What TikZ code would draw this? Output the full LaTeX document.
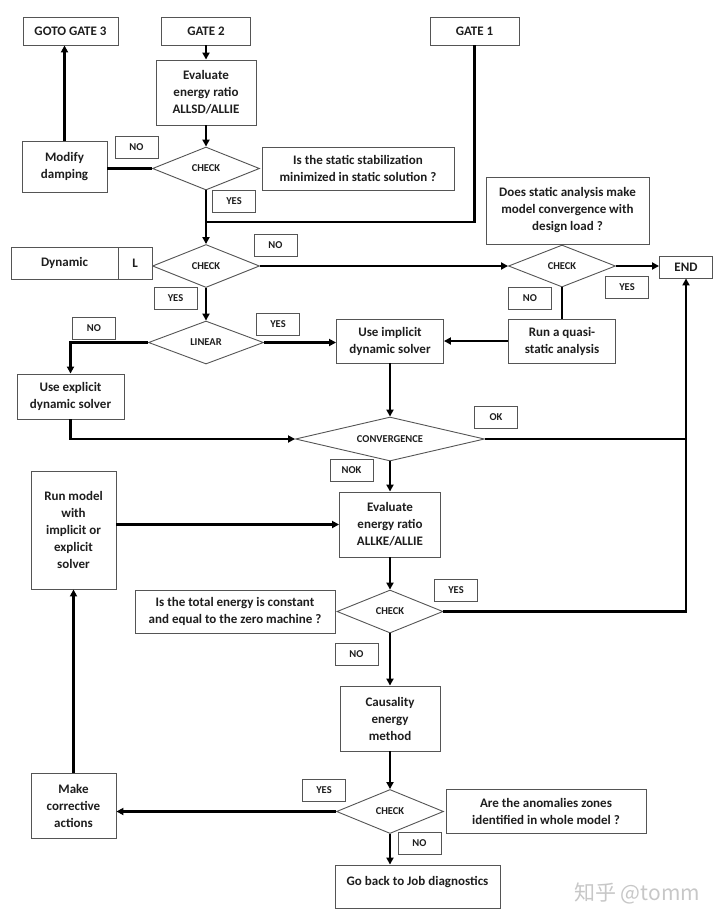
\documentclass[tikz,border=0pt]{standalone}
\usepackage{fontspec}
\setmainfont{Carlito}
\newfontfamily\cjk{Noto Sans CJK SC}
\usetikzlibrary{shapes.geometric,arrows.meta}
\definecolor{edge}{HTML}{555555}
\definecolor{txt}{HTML}{1E1E1E}
\tikzset{
  box/.style={draw=edge,line width=0.9pt,fill=white,text=txt,font=\fontsize{13}{17}\selectfont\bfseries,align=center,inner sep=0pt},
  lbl/.style={draw=edge,line width=0.9pt,fill=white,text=txt,font=\fontsize{10.5}{12}\selectfont\bfseries,inner sep=0pt,minimum width=43pt,minimum height=22pt},
  dia/.style={diamond,draw=edge,line width=0.9pt,fill=white,text=txt,font=\fontsize{10.5}{12}\selectfont\bfseries,inner sep=0pt,aspect=2.4},
  conn/.style={line width=2.6pt,black},
  arr/.style={conn,-{Triangle[length=7pt,width=7pt]}}
}
\begin{document}
\begin{tikzpicture}[x=1pt,y=-1pt]
\useasboundingbox (0,0) rectangle (720,924);
% top gates
\node[box,minimum width=95pt,minimum height=28pt] (goto3) at (70.5,31) {GOTO GATE 3};
\node[box,minimum width=89pt,minimum height=28pt] (gate2) at (206,31) {GATE 2};
\node[box,minimum width=89pt,minimum height=28pt] (gate1) at (474.5,31) {GATE 1};
\node[box,minimum width=100pt,minimum height=65pt] (eval1) at (206,92.5) {Evaluate\\energy ratio\\ALLSD/ALLIE};
\node[dia,minimum width=107pt,minimum height=43pt] (chk1) at (206,168.5) {CHECK};
\node[box,minimum width=85pt,minimum height=51pt] (modify) at (64.5,166.5) {Modify\\damping};
\node[box,minimum width=192pt,minimum height=43pt] (q1) at (358,168.5) {Is the static stabilization\\minimized in static solution ?};
\node[lbl] (no1) at (136.5,147) {NO};
\node[lbl] (yes1) at (234,201) {YES};
\coordinate (j1) at (206,222);
% second row
\node[dia,minimum width=107pt,minimum height=43pt] (chk2) at (206,266) {CHECK};
\node[box,minimum width=107pt,minimum height=32pt] (dynA) at (64.5,263) {Dynamic};
\node[box,minimum width=34pt,minimum height=32pt] (dynB) at (135,263) {L};
\node[lbl] (no2) at (275.5,245) {NO};
\node[lbl] (yes2) at (175.5,298.5) {YES};
\node[dia,minimum width=107pt,minimum height=42pt] (chk3) at (562,266) {CHECK};
\node[box,minimum width=163pt,minimum height=67pt] (q2) at (567.5,210.5) {Does static analysis make\\model convergence with\\design load ?};
\node[box,minimum width=53pt,minimum height=22pt] (endn) at (686,267) {END};
\node[lbl] (yes4) at (627,287.5) {YES};
\node[lbl] (no4) at (530,298) {NO};
% linear row
\node[dia,minimum width=115pt,minimum height=43pt] (linear) at (206,342.5) {LINEAR};
\node[lbl] (no3) at (94,328) {NO};
\node[lbl] (yes3) at (278,324) {YES};
\node[box,minimum width=107pt,minimum height=45pt] (explicit) at (70.5,396.5) {Use explicit\\dynamic solver};
\node[box,minimum width=107pt,minimum height=44pt] (implicit) at (390,341) {Use implicit\\dynamic solver};
\node[box,minimum width=107pt,minimum height=44pt] (quasi) at (562,341) {Run a quasi-\\static analysis};
% convergence
\node[dia,minimum width=189pt,minimum height=44pt] (conv) at (390,439) {CONVERGENCE};
\node[lbl] (ok) at (496,417) {OK};
\node[lbl] (nok) at (351.5,470.5) {NOK};
\coordinate (jc) at (686,439);
\node[box,minimum width=101pt,minimum height=65pt] (eval2) at (390,524.5) {Evaluate\\energy ratio\\ALLKE/ALLIE};
\node[box,minimum width=85pt,minimum height=118pt] (runm) at (73.5,530) {Run model\\with\\implicit or\\explicit\\solver};
\node[dia,minimum width=106pt,minimum height=43pt] (chk4) at (390,611.5) {CHECK};
\node[box,minimum width=200pt,minimum height=43pt] (q3) at (235,611.5) {Is the total energy is constant\\and equal to the zero machine ?};
\node[lbl] (yes5) at (456,590) {YES};
\node[lbl] (no5) at (356.5,654) {NO};
\node[box,minimum width=100pt,minimum height=65pt] (caus) at (390,718.5) {Causality\\energy\\method};
\node[dia,minimum width=107pt,minimum height=44pt] (chk5) at (390,811.5) {CHECK};
\node[box,minimum width=200pt,minimum height=44pt] (q4) at (546,811) {Are the anomalies zones\\identified in whole model ?};
\node[lbl] (yes6) at (324,790) {YES};
\node[box,minimum width=85pt,minimum height=65pt] (corr) at (73.5,805.5) {Make\\corrective\\actions};
\node[lbl] (no6) at (419.5,843.5) {NO};
\node[box,minimum width=165pt,minimum height=43pt] (goback) at (417.5,886.5) {};
\node[text=txt,font=\fontsize{13}{17}\selectfont\bfseries,inner sep=0pt] (gobackt) at (417.5,882) {Go back to Job diagnostics};
\node[text=black!22,font=\cjk\fontsize{21}{24}\selectfont,inner sep=0pt] (wm) at (637,893) {知乎 @tomm};
% connectors
\draw[arr] (gate2.south) -- (eval1.north);
\draw[arr] (eval1.south) -- (chk1.north);
\draw[conn] (chk1.west) -- (chk1.west -| modify.east);
\draw[arr] (modify.north) -- (modify.north |- goto3.south);
\draw[arr] (chk1.south) -- (chk2.north);
\draw[conn] (gate1.south) |- (j1);
\draw[arr] (chk2.east) -- (chk3.west);
\draw[arr] (chk2.south) -- (linear.north);
\draw[arr] (linear.west) -| (explicit.north);
\draw[arr] (linear.east) -- (linear.east -| implicit.west);
\draw[arr] (explicit.south) |- (conv.west);
\draw[arr] (implicit.south) -- (conv.north);
\draw[arr] (chk3.east) -- (chk3.east -| endn.west);
\draw[conn] (chk3.south) -- (quasi.north);
\draw[arr] (quasi.west) -- (implicit.east);
\draw[conn] (conv.east) -- (jc);
\draw[arr] (jc) -- (endn.south);
\draw[conn] (chk4.east) -| (jc);
\draw[arr] (conv.south) -- (eval2.north);
\draw[arr] (runm.east |- eval2.west) -- (eval2.west);
\draw[arr] (eval2.south) -- (chk4.north);
\draw[arr] (chk4.south) -- (caus.north);
\draw[arr] (caus.south) -- (chk5.north);
\draw[arr] (chk5.west) -- (chk5.west -| corr.east);
\draw[arr] (corr.north) -- (runm.south);
\draw[arr] (chk5.south) -- (chk5.south |- goback.north);
\end{tikzpicture}
\end{document}
